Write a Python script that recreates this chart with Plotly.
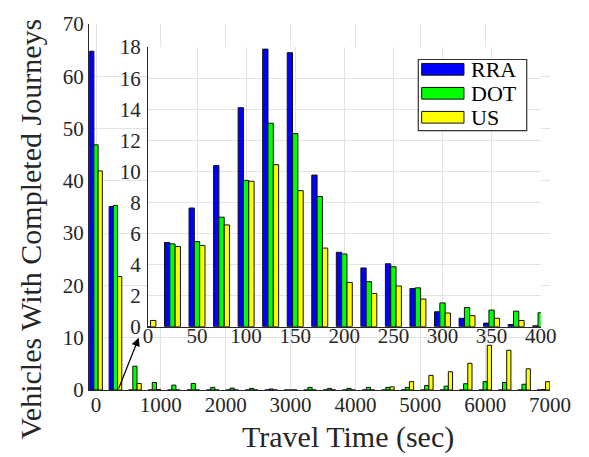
import plotly.graph_objects as go

# Main histogram: 300-second bins over the whole trip range
main_centers = [0, 300, 600, 900, 1200, 1500, 1800, 2100, 2400, 2700, 3000, 3300,
                3600, 3900, 4200, 4500, 4800, 5100, 5400, 5700, 6000, 6300, 6600, 6900]
main_rra = [64.8, 35.1, 0, 0, 0, 0, 0, 0, 0, 0, 0, 0,
            0, 0, 0, 0, 0, 0, 0, 0, 0, 0, 0, 0]
main_dot = [46.9, 35.3, 4.56, 1.44, 0.94, 1.25, 0.5, 0.37, 0.3, 0.2, 0, 0.5,
            0.3, 0.3, 0.5, 0.5, 0.5, 0.87, 0.75, 1.2, 1.6, 1.44, 1.1, 0.1]
main_us = [41.9, 21.7, 1.25, 0.1, 0, 0, 0, 0, 0, 0, 0, 0,
           0, 0, 0, 0.6, 1.6, 2.8, 3.5, 5.1, 8.56, 7.6, 4.06, 1.6]

# Zoomed histogram: 25-second bins over the first 400 seconds
inset_centers = [0, 25, 50, 75, 100, 125, 150, 175, 200, 225, 250, 275, 300, 325, 350, 375, 400]
inset_rra = [0, 5.42, 7.64, 10.37, 14.1, 17.87, 17.64, 9.76, 4.79, 3.78, 4.05, 2.46,
             0.96, 0.54, 0.23, 0.14, 0.06]
inset_dot = [0, 5.33, 5.48, 7.05, 9.42, 13.1, 12.43, 8.38, 4.68, 2.9, 3.86, 2.5,
             1.53, 1.24, 1.07, 1.0, 0.9]
inset_us = [0.4, 5.16, 5.23, 6.55, 9.36, 10.43, 8.76, 5.06, 2.85, 2.14, 2.62, 1.78,
            0.88, 0.71, 0.54, 0.4, 0.3]

series_names = ["RRA", "DOT", "US"]
series_colors = ["#0000ff", "#00ff00", "#ffff00"]

main_xticks = [0, 1000, 2000, 3000, 4000, 5000, 6000, 7000]
main_yticks = [0, 10, 20, 30, 40, 50, 60, 70]
inset_xticks = [0, 50, 100, 150, 200, 250, 300, 350, 400]
inset_yticks = [0, 2, 4, 6, 8, 10, 12, 14, 16, 18]

FONT = "Liberation Serif, Times New Roman, serif"
INK = "#262626"
GRID = "#e3e3e3"

fig = go.Figure()

for name, color, vals in zip(series_names, series_colors, [main_rra, main_dot, main_us]):
    fig.add_trace(go.Bar(x=main_centers, y=vals, name=name, marker_color=color,
                         marker_line=dict(color="#111111", width=1),
                         xaxis="x", yaxis="y", showlegend=False))

for name, color, vals in zip(series_names, series_colors, [inset_rra, inset_dot, inset_us]):
    fig.add_trace(go.Bar(x=inset_centers, y=vals, name=name, marker_color=color,
                         marker_line=dict(color="#111111", width=1),
                         xaxis="x2", yaxis="y2", showlegend=False))

axis_common = dict(showgrid=True, gridcolor=GRID, gridwidth=1, showline=True,
                   linecolor=INK, linewidth=1, zeroline=False, ticks="",
                   tickfont=dict(family=FONT, size=21, color=INK), tickmode="array")

fig.update_layout(
    width=589, height=457,
    margin=dict(l=89, r=39, t=16, b=67),
    paper_bgcolor="white", plot_bgcolor="white",
    barmode="group", bargap=0.35, bargroupgap=0,
    font=dict(family=FONT, color=INK),
    xaxis=dict(range=[-108, 7000], tickvals=main_xticks, domain=[0, 1], anchor="y",
               ticklabelstandoff=-4, **axis_common),
    yaxis=dict(range=[0, 70], tickvals=main_yticks, domain=[0, 1], anchor="x", **axis_common),
    xaxis2=dict(range=[0, 400], tickvals=inset_xticks, domain=[0.1278, 0.9798], anchor="y2",
                ticklabelstandoff=-10, **axis_common),
    yaxis2=dict(range=[0, 18], tickvals=inset_yticks, domain=[0.173, 0.9369], anchor="x2",
                ticklabelstandoff=2, **axis_common),
)

# Axis titles
fig.add_annotation(text="Travel Time (sec)", xref="paper", yref="paper", x=0.561, y=-0.128,
                   xanchor="center", yanchor="middle", showarrow=False,
                   font=dict(family=FONT, size=30, color=INK))
fig.add_annotation(text="Vehicles With Completed Journeys", xref="paper", yref="paper",
                   x=-0.126, y=0.441, xanchor="center", yanchor="middle", textangle=-90,
                   showarrow=False, font=dict(family=FONT, size=30, color=INK))

# Arrow pointing from the first bins to the zoomed view
fig.add_annotation(x=660, y=10, ax=340, ay=0, xref="x", yref="y", axref="x", ayref="y",
                   showarrow=True, arrowhead=2, arrowsize=1.4, arrowwidth=1.2,
                   arrowcolor="black", standoff=0, startstandoff=0, text="")

# Legend box with wide swatches
fig.add_shape(type="rect", xref="paper", yref="paper", x0=0.7143, x1=0.9495, y0=0.7086, y1=0.903,
              fillcolor="white", line=dict(color="#333333", width=1.2), layer="above")
row_y = [0.8762, 0.8107, 0.7452]
for name, color, yc in zip(series_names, series_colors, row_y):
    fig.add_shape(type="rect", xref="paper", yref="paper", x0=0.7216, x1=0.8134,
                  y0=yc - 0.016, y1=yc + 0.016, fillcolor=color,
                  line=dict(color="#111111", width=1), layer="above")
    fig.add_annotation(text=name, xref="paper", yref="paper", x=0.827, y=yc,
                       xanchor="left", yanchor="middle", showarrow=False, borderpad=0,
                       font=dict(family=FONT, size=22, color="black"))

fig.write_html("out.html")
